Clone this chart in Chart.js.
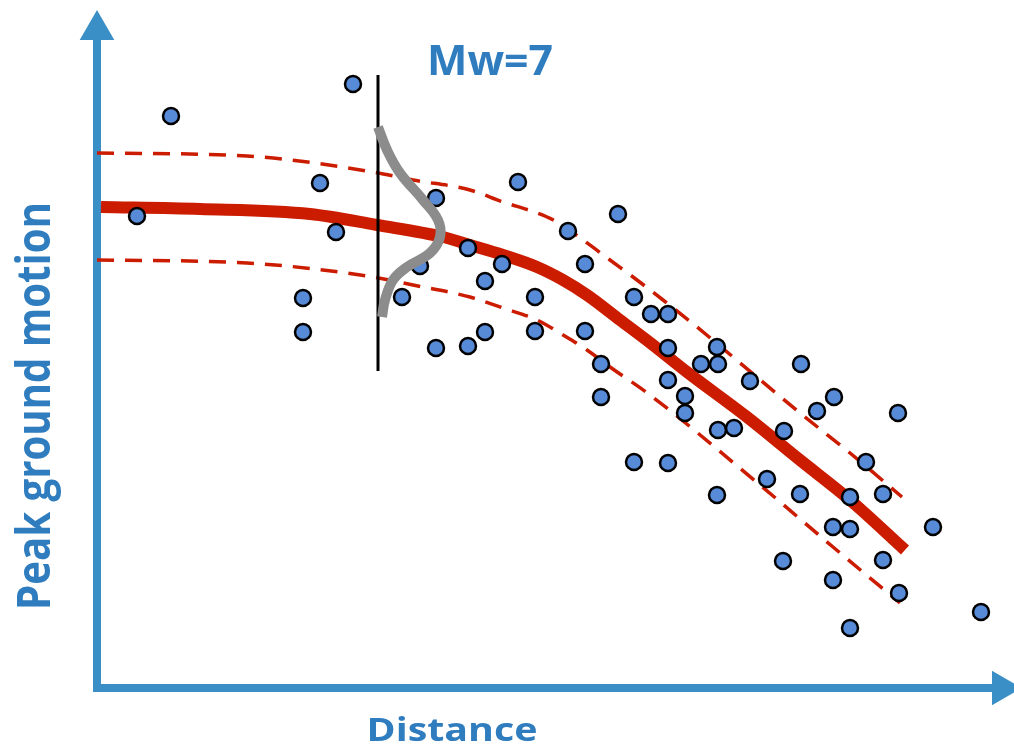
<!DOCTYPE html>
<html lang="en">
<head>
    <meta charset="UTF-8">
    <title>Peak ground motion vs distance</title>
    <script src="https://cdn.jsdelivr.net/npm/chart.js"></script>
    <style>
        html, body {
            margin: 0;
            padding: 0;
            background-color: #ffffff;
        }
        #wrap {
            width: 1014px;
            height: 749px;
        }
    </style>
</head>
<body>
    <div id="wrap"><canvas id="pgmChart"></canvas></div>

    <script>
        // observed records (distance, ground motion) - origin at the axes corner
        const recordX = [40, 74, 206, 206, 223, 239, 256, 305, 323, 339, 339, 371, 371, 388, 388, 405, 421, 438, 438, 471,
                         488, 488, 521, 504, 504, 537, 554, 571, 571, 571, 588, 588, 604, 620, 621, 653, 621, 637, 687, 704,
                         737, 720, 801, 537, 571, 620, 670, 703, 753, 786, 769, 736, 753, 836, 686, 786, 736, 802, 753, 884];
        const recordY = [472, 572, 390, 356, 505, 456, 604, 391, 422, 490, 340, 440, 342, 407, 356, 424, 506, 391, 357, 457,
                         424, 357, 474, 324, 291, 391, 374, 374, 340, 308, 292, 275, 324, 341, 324, 307, 258, 260, 257, 324,
                         291, 277, 275, 226, 225, 193, 209, 194, 191, 194, 226, 161, 159, 161, 127, 128, 108, 95, 60, 76];

        // median prediction for Mw=7
        const medianX = [4, 103, 213, 280, 346, 373, 406, 440, 466, 490, 523, 556, 590, 650, 703, 753, 808];
        const medianY = [481, 479, 474, 463, 451, 443, 433, 421, 408, 393, 368, 343, 316, 271, 228, 188, 138];

        // +/- one sigma
        const upperX = [0, 150, 276, 316, 373, 406, 440, 460, 486, 513, 540, 566, 600, 636, 703, 753, 805];
        const upperY = [535, 532, 516, 508, 498, 486, 475, 466, 448, 428, 408, 388, 361, 331, 275, 235, 191];
        const lowerX = [0, 150, 276, 316, 373, 406, 440, 466, 490, 513, 553, 663, 736, 803];
        const lowerY = [428, 425, 411, 403, 391, 380, 368, 353, 338, 321, 293, 203, 141, 85];

        // distance slice and the scatter distribution drawn on it
        const sliceX = [281, 281];
        const sliceY = [317, 613];
        const bellX = [281, 290, 303, 326, 341, 343, 333, 310, 296, 288, 285];
        const bellY = [561, 538, 515, 488, 468, 451, 435, 421, 408, 388, 371];

        const titleText = 'Mw=7';
        const xLabel = 'Distance';
        const yLabel = 'Peak ground motion';

        const blue = '#3b8fc7';
        const textBlue = '#2f7dbf';
        const red = '#cc1c00';

        const pairs = (xs, ys) => xs.map((x, i) => ({x: x, y: ys[i]}));

        // text is fitted to a box: baseline point, font size, width
        function fitText(ctx, text, size, width) {
            ctx.font = 'bold ' + size + 'px "Open Sans"';
            const w = ctx.measureText(text).width;
            ctx.scale(width / w, 1);
            ctx.fillText(text, -w / 2, 0);
        }

        const labelsPlugin = {
            id: 'labels',
            afterDraw(chart) {
                const ctx = chart.ctx;
                ctx.save();
                ctx.fillStyle = textBlue;
                ctx.textBaseline = 'alphabetic';

                ctx.save();
                ctx.translate(490, 75);
                fitText(ctx, titleText, 42, 126);
                ctx.restore();

                ctx.save();
                ctx.translate(452, 741);
                fitText(ctx, xLabel, 32, 171);
                ctx.restore();

                ctx.save();
                ctx.translate(50, 406);
                ctx.rotate(-Math.PI / 2);
                fitText(ctx, yLabel, 46, 408);
                ctx.restore();

                ctx.restore();
            }
        };

        const ctx = document.getElementById('pgmChart').getContext('2d');
        const pgmChart = new Chart(ctx, {
            type: 'scatter',
            data: {
                datasets: [
                    {
                        label: 'distribution',
                        data: pairs(bellX, bellY),
                        showLine: true,
                        borderColor: '#8c8c8c',
                        borderWidth: 10,
                        tension: 0.4,
                        pointRadius: 0
                    },
                    {
                        label: 'slice',
                        data: pairs(sliceX, sliceY),
                        showLine: true,
                        borderColor: '#000000',
                        borderWidth: 3,
                        pointRadius: 0
                    },
                    {
                        label: 'records',
                        data: pairs(recordX, recordY),
                        backgroundColor: '#578ad7',
                        borderColor: '#000000',
                        borderWidth: 2.5,
                        pointRadius: 8
                    },
                    {
                        label: 'median',
                        data: pairs(medianX, medianY),
                        showLine: true,
                        borderColor: red,
                        borderWidth: 12,
                        cubicInterpolationMode: 'monotone',
                        pointRadius: 0
                    },
                    {
                        label: 'upper',
                        data: pairs(upperX, upperY),
                        showLine: true,
                        borderColor: red,
                        borderWidth: 3.5,
                        borderDash: [17, 11],
                        cubicInterpolationMode: 'monotone',
                        pointRadius: 0
                    },
                    {
                        label: 'lower',
                        data: pairs(lowerX, lowerY),
                        showLine: true,
                        borderColor: red,
                        borderWidth: 3.5,
                        borderDash: [17, 11],
                        cubicInterpolationMode: 'monotone',
                        pointRadius: 0
                    },
                    {
                        label: 'y axis',
                        data: [{x: 0, y: -4}, {x: 0, y: 650}],
                        showLine: true,
                        borderColor: blue,
                        borderWidth: 8,
                        pointRadius: 0
                    },
                    {
                        label: 'y arrow',
                        data: [{x: 0, y: 658}],
                        pointStyle: 'triangle',
                        pointRadius: 20,
                        borderWidth: 0,
                        backgroundColor: blue
                    },
                    {
                        label: 'x axis',
                        data: [{x: -4, y: 0}, {x: 898, y: 0}],
                        showLine: true,
                        borderColor: blue,
                        borderWidth: 8,
                        pointRadius: 0
                    },
                    {
                        label: 'x arrow',
                        data: [{x: 905, y: 0}],
                        pointStyle: 'triangle',
                        rotation: 90,
                        pointRadius: 20,
                        borderWidth: 0,
                        backgroundColor: blue
                    }
                ].map(ds => Object.assign({clip: false}, ds))
            },
            options: {
                animation: false,
                responsive: true,
                maintainAspectRatio: false,
                layout: { padding: 0 },
                plugins: {
                    legend: { display: false },
                    tooltip: { enabled: false }
                },
                scales: {
                    // the arrow markers force a 20px inset; bounds chosen so that 1 unit = 1px
                    x: { type: 'linear', min: -77, max: 897, display: false },
                    y: { type: 'linear', min: -41, max: 668, display: false }
                }
            },
            plugins: [labelsPlugin]
        });
    </script>
</body>
</html>
